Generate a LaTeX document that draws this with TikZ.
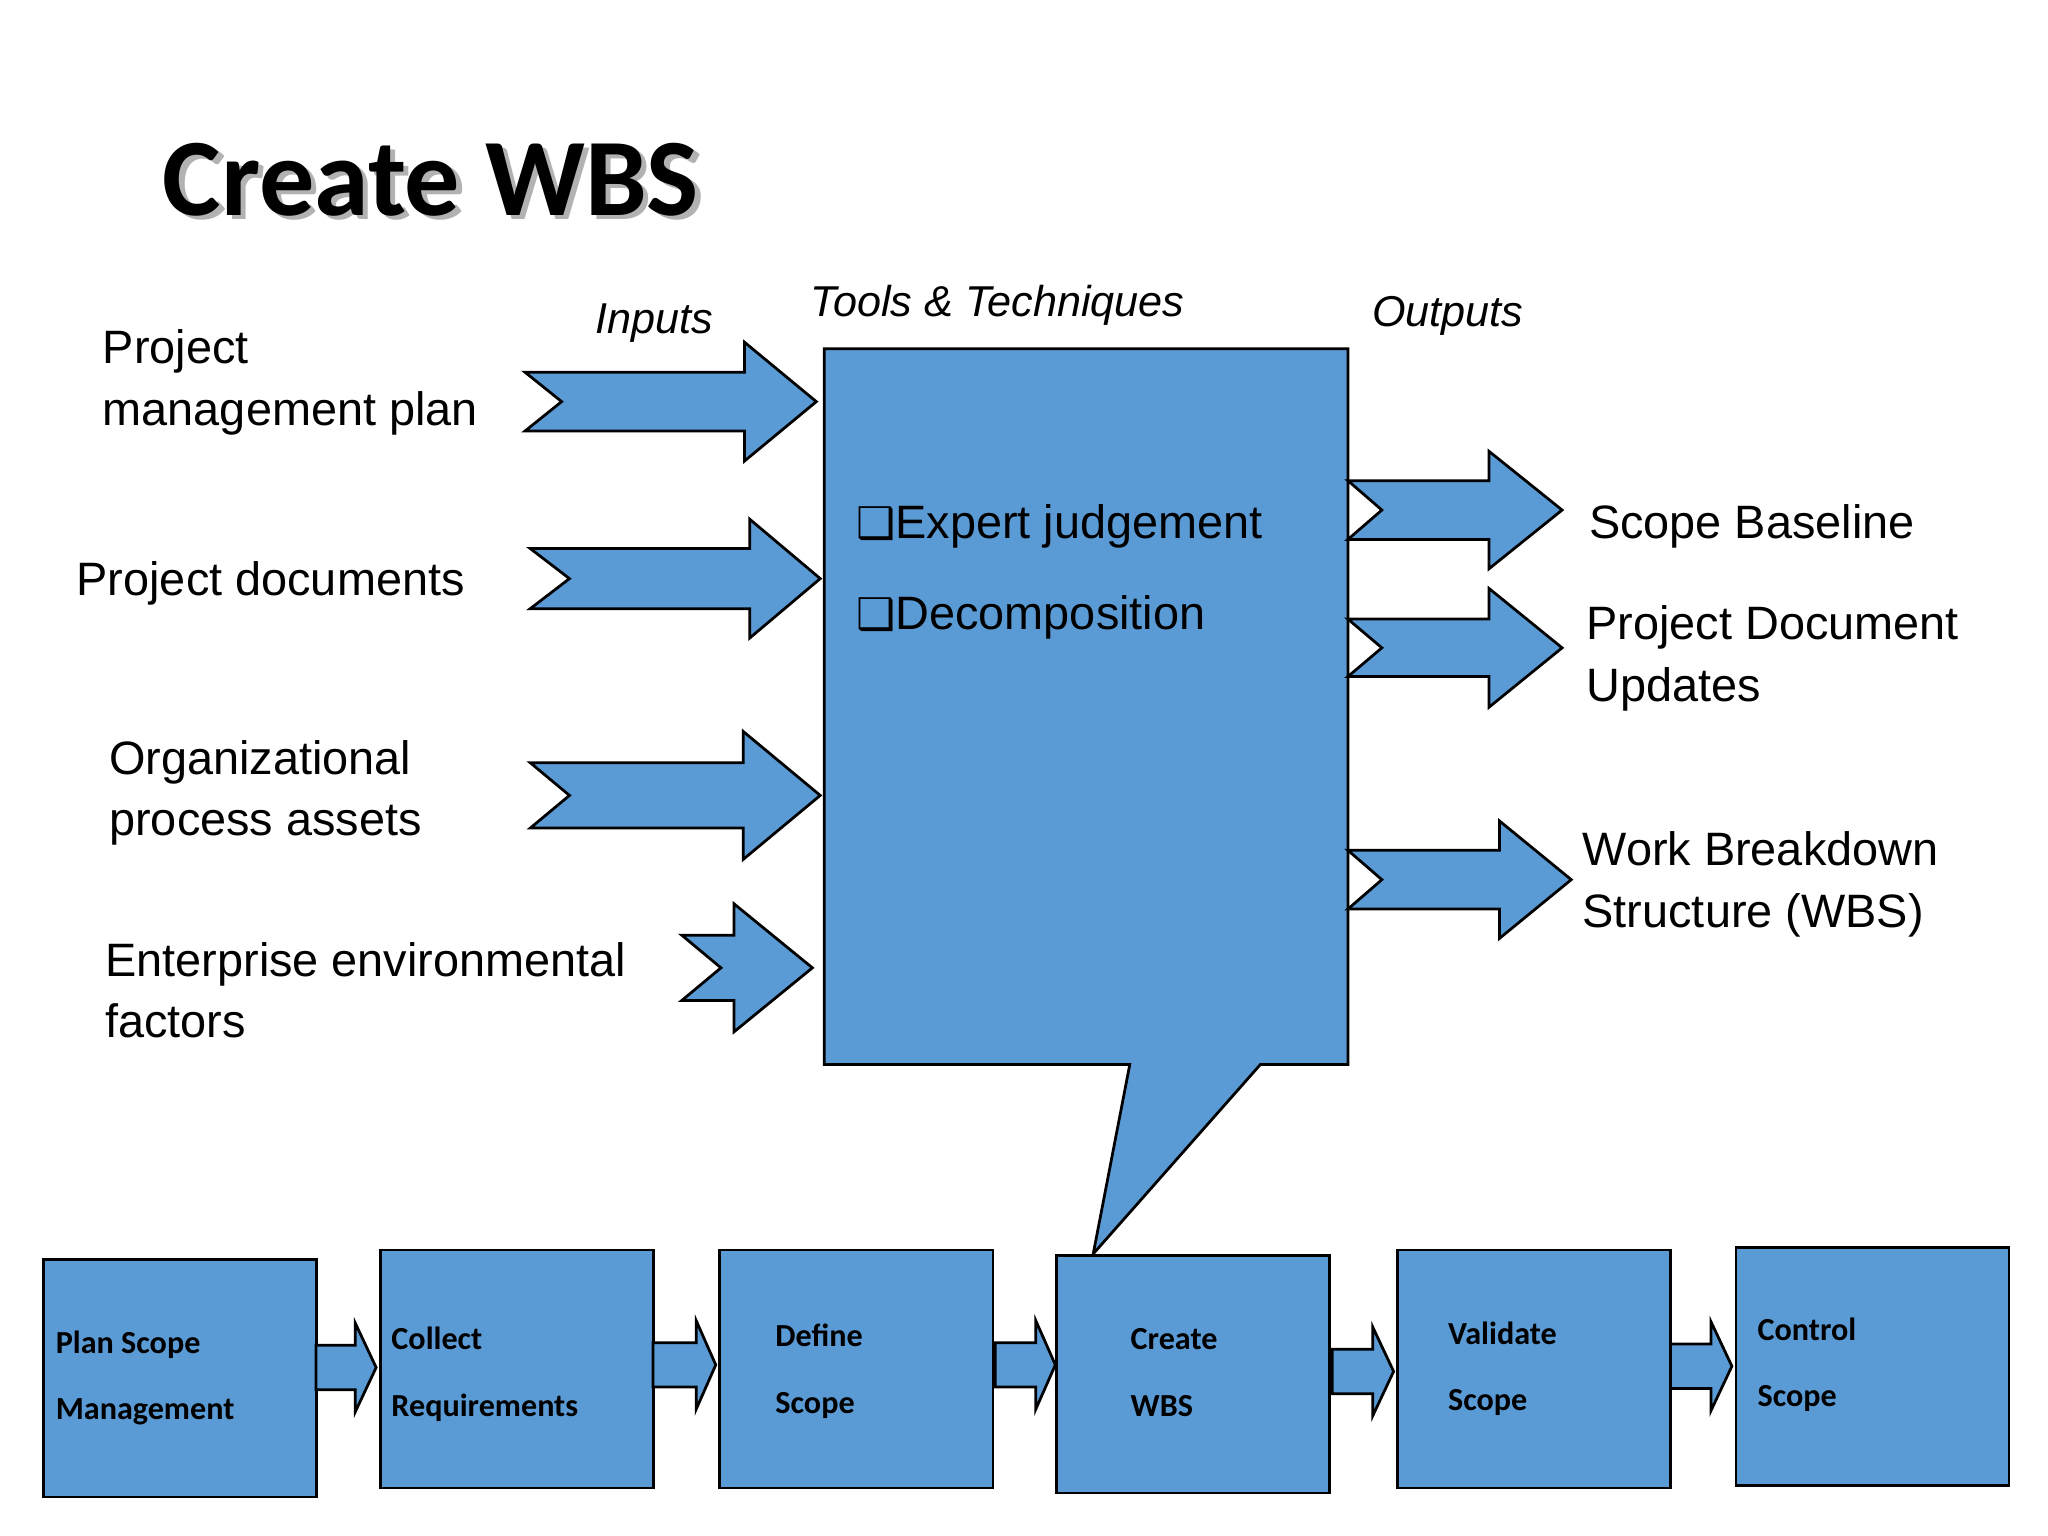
\documentclass[tikz,border=0pt]{standalone}
\usepackage{fontspec}
\setmainfont{Liberation Sans}
\newfontfamily\carlitofont{Carlito}
\newfontfamily\dejavufont{DejaVu Sans}
\definecolor{boxblue}{HTML}{5B9BD5}
% notched block arrow: tail x, head-start x, tip x, centre y, half body, half head, notch
\newcommand{\fatarrow}[7]{%
  \draw[blk] (#1,#4-#5) -- (#2,#4-#5) -- (#2,#4-#6) -- (#3,#4) -- (#2,#4+#6)
    -- (#2,#4+#5) -- (#1,#4+#5) -- (#1+#7,#4) -- cycle;}
\begin{document}
\begin{tikzpicture}[x=0.01cm,y=-0.01cm,
  blk/.style={fill=boxblue,draw=black,line width=0.6pt,line join=miter},
  lbl/.style={font=\fontsize{10.2}{12.8}\selectfont,anchor=base west,inner sep=0},
  hdr/.style={font=\fontsize{9.4}{11}\selectfont\itshape,anchor=base west,inner sep=0},
  procbox/.style={blk,minimum width=2.09cm,minimum height=1.82cm,inner sep=0},
  steptxt/.style={font=\carlitofont\bfseries\fontsize{7}{14.5}\selectfont,align=left,anchor=west,inner sep=0}]
\useasboundingbox (0,0) rectangle (1568,1176);
% title
\node[font=\carlitofont\bfseries\fontsize{24}{28}\selectfont,text=gray!60,anchor=base west,inner sep=0] at (128,168) {Create WBS};
\node[font=\carlitofont\bfseries\fontsize{24}{28}\selectfont,anchor=base west,inner sep=0] (title) at (124,165) {Create WBS};
% headers
\node[hdr] (hin) at (455,255) {Inputs};
\node[hdr] (htt) at (620,242) {Tools \& Techniques};
\node[hdr] (hout) at (1050,250) {Outputs};
% main box with callout
\draw[blk] (631,267) -- (1032,267) -- (1032,815) -- (965,815) -- (837,960) -- (865,815) -- (631,815) -- cycle;
\coordinate (tip) at (837,960);
\node[lbl] (t1) at (655,412) {{\dejavufont\fontsize{9.5}{12}\selectfont ❑}Expert judgement};
\node[lbl] (t2) at (655,482) {{\dejavufont\fontsize{9.5}{12}\selectfont ❑}Decomposition};
% inputs
\node[lbl] (i1a) at (78,278) {Project};
\node[lbl] (i1b) at (78,326) {management plan};
\node[lbl] (i2) at (58,456) {Project documents};
\node[lbl] (i3a) at (83,593) {Organizational};
\node[lbl] (i3b) at (83,640) {process assets};
\node[lbl] (i4a) at (80,748) {Enterprise environmental};
\node[lbl] (i4b) at (80,794) {factors};
\fatarrow{402}{570}{625}{307.5}{22.5}{45.5}{28}
\fatarrow{406}{574}{628}{443}{23}{45.5}{30}
\fatarrow{406}{569}{628}{609}{25}{49}{30}
\fatarrow{522}{562}{622}{741}{25}{49}{30}
% outputs
\fatarrow{1032}{1140}{1196}{390.5}{22.5}{45}{26}
\fatarrow{1032}{1140}{1196}{496}{22}{45.5}{26}
\fatarrow{1032}{1148}{1203}{673.5}{22.5}{45}{26}
\node[lbl] (o1) at (1216,412) {Scope Baseline};
\node[lbl] (o2a) at (1214,490) {Project Document};
\node[lbl] (o2b) at (1214,537) {Updates};
\node[lbl] (o3a) at (1211,663) {Work Breakdown};
\node[lbl] (o3b) at (1211,710) {Structure (WBS)};
% process steps
\node[procbox,anchor=north west] (s1) at (32,963) {};
\node[procbox,anchor=north west] (s2) at (290,956) {};
\node[procbox,anchor=north west] (s3) at (550,956) {};
\node[procbox,anchor=north west] (s4) at (808,960) {};
\node[procbox,anchor=north west] (s5) at (1069,956) {};
\node[procbox,anchor=north west] (s6) at (1328,954) {};
\node[steptxt] at (42,1055) {Plan Scope\\Management};
\node[steptxt] at (299,1052) {Collect\\Requirements};
\node[steptxt] at (593,1050) {Define\\Scope};
\node[steptxt] at (865,1051) {Create\\WBS};
\node[steptxt] at (1108,1048) {Validate\\Scope};
\node[steptxt] at (1345,1045) {Control\\Scope};
\fatarrow{242}{272}{288}{1047}{17}{34}{0}
\fatarrow{500}{533}{548}{1045}{17}{34}{0}
\fatarrow{762}{793}{808}{1045}{17}{34}{0}
\fatarrow{1020}{1051}{1067}{1050}{17}{34}{0}
\fatarrow{1279}{1310}{1326}{1046}{17}{34}{0}
\end{tikzpicture}
\end{document}
